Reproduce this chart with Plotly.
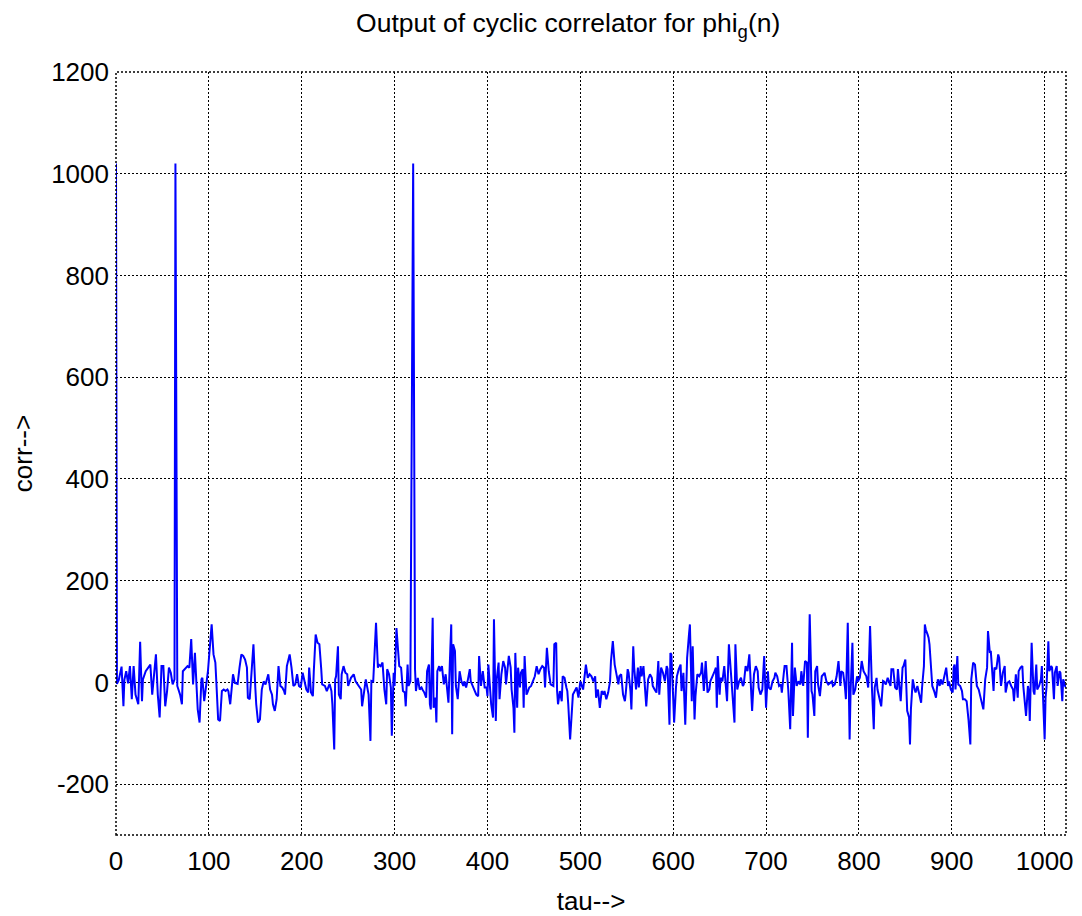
import plotly.graph_objects as go

# Lag values (tau) and correlator output (corr)
tau = [
    0, 1, 3, 6, 8, 9, 11, 13, 15, 17,
    19, 21, 24, 26, 28, 29, 32, 35, 37, 39,
    41, 43, 45, 47, 49, 51, 53, 55, 57, 59,
    61, 63, 64, 66, 69, 71, 72, 75, 77, 79,
    81, 83, 85, 87, 88, 90, 92, 93, 95, 99,
    100, 103, 105, 107, 108, 110, 112, 114, 116, 118,
    120, 121, 123, 125, 126, 128, 131, 133, 135, 137,
    139, 141, 142, 144, 146, 148, 150, 151, 153, 155,
    157, 159, 161, 164, 166, 168, 169, 171, 173, 175,
    177, 179, 181, 182, 184, 186, 187, 189, 191, 193,
    195, 197, 199, 201, 203, 205, 207, 208, 210, 212,
    213, 215, 217, 219, 221, 222, 225, 227, 230, 232,
    233, 235, 236, 237, 239, 240, 242, 243, 245, 247,
    249, 250, 253, 256, 258, 261, 264, 265, 268, 269,
    272, 274, 275, 277, 280, 282, 283, 285, 287, 289,
    291, 292, 294, 296, 297, 299, 300, 302, 305, 307,
    309, 311, 312, 314, 315, 317, 320, 322, 323, 325,
    327, 329, 330, 332, 334, 335, 337, 338, 339, 341,
    342, 344, 345, 346, 348, 349, 351, 353, 355, 357,
    358, 360, 361, 362, 363, 365, 366, 368, 370, 372,
    374, 375, 377, 379, 381, 382, 384, 386, 388, 390,
    391, 393, 395, 397, 399, 400, 401, 403, 404, 406,
    407, 409, 410, 412, 413, 415, 417, 419, 420, 423,
    425, 426, 428, 429, 430, 432, 433, 435, 436, 438,
    439, 440, 442, 443, 445, 447, 449, 451, 453, 455,
    457, 459, 461, 462, 464, 466, 468, 471, 472, 474,
    475, 476, 478, 480, 481, 483, 485, 486, 487, 489,
    490, 492, 494, 496, 498, 500, 503, 504, 506, 508,
    510, 512, 514, 516, 517, 519, 521, 523, 525, 526,
    528, 530, 532, 533, 535, 537, 539, 541, 542, 544,
    546, 548, 549, 551, 552, 554, 555, 557, 558, 560,
    562, 563, 565, 566, 568, 570, 571, 573, 575, 577,
    578, 580, 582, 584, 585, 587, 589, 591, 593, 594,
    596, 597, 598, 600, 601, 603, 604, 606, 608, 609,
    611, 613, 615, 617, 618, 620, 621, 623, 624, 626,
    628, 630, 631, 633, 635, 637, 639, 640, 642, 644,
    646, 647, 648, 650, 651, 653, 655, 657, 658, 660,
    662, 664, 666, 667, 669, 671, 673, 675, 676, 678,
    680, 682, 684, 685, 687, 689, 691, 692, 694, 696,
    698, 699, 700, 702, 703, 705, 707, 709, 710, 712,
    714, 716, 717, 719, 720, 722, 724, 726, 728, 729,
    731, 733, 735, 737, 738, 740, 742, 744, 745, 746,
    747, 749, 750, 752, 753, 755, 756, 758, 760, 762,
    763, 765, 767, 771, 772, 774, 776, 778, 780, 781,
    783, 785, 786, 788, 789, 790, 791, 793, 794, 796,
    798, 799, 801, 803, 805, 807, 808, 810, 812, 814,
    816, 817, 819, 820, 822, 824, 826, 827, 829, 831,
    834, 835, 837, 839, 841, 842, 844, 845, 847, 848,
    850, 851, 852, 854, 855, 856, 858, 860, 861, 863,
    865, 867, 868, 870, 871, 872, 874, 875, 876, 878,
    879, 881, 883, 885, 887, 888, 890, 892, 894, 896,
    897, 899, 901, 902, 903, 904, 906, 907, 909, 911,
    912, 914, 916, 918, 920, 921, 923, 925, 927, 929,
    931, 933, 934, 936, 938, 939, 941, 942, 943, 945,
    946, 948, 950, 951, 953, 955, 957, 958, 960, 962,
    964, 966, 967, 969, 971, 972, 974, 976, 977, 979,
    980, 982, 983, 984, 986, 988, 989, 991, 992, 994,
    996, 997, 998, 1000, 1001, 1002, 1004, 1005, 1007, 1008,
    1010, 1011, 1013, 1014, 1016, 1017, 1019, 1020, 1022, 1023,
]

corr = [
    1020, -3, 5, 31, -47, 5, 22, -2, 32, -33,
    32, -24, -43, 80, -37, 6, 22, 29, 35, -24,
    25, 55, -24, -69, 32, 32, -47, -17, 29, 19,
    -4, 6, 1020, -7, -24, -43, 22, 29, 32, 29,
    85, -4, 58, -17, -53, -79, 6, 9, -37, 22,
    42, 114, 55, 39, 3, -73, -76, -17, -14, -17,
    -14, -17, -43, -4, 16, -1, -3, 29, 55, 52,
    45, 29, -30, -33, 32, 75, -10, -43, -79, -73,
    -14, 2, -4, 16, -14, -24, -43, -56, -33, 32,
    -7, -10, -17, -24, 32, 52, 55, 29, -7, -4,
    16, -7, -10, 19, 2, -14, -20, 29, -20, -27,
    22, 94, 78, 75, 26, -4, -7, -17, -3, -17,
    -43, -132, 6, 12, 71, -24, -33, 16, 32, 19,
    16, -7, 9, 16, 2, -7, -14, -47, -10, 6,
    -24, -115, 3, 2, 117, 29, 35, 32, 39, -14,
    -43, 26, 16, -10, -105, 19, -7, 107, 32, 29,
    -17, -20, -47, 35, -7, 2, 1020, 26, -17, 9,
    -14, -10, -14, -20, -30, 22, 35, -43, -53, 127,
    -50, -30, -79, 22, 32, 22, 32, -4, 16, -17,
    -40, 65, 114, -102, 75, 62, -7, -33, 22, 2,
    -7, 2, -10, 6, 26, 2, -7, -14, -24, -27,
    52, -7, 22, -10, -10, -27, 35, -17, -43, -69,
    124, -76, 6, 39, -33, 16, 42, 29, -4, 52,
    29, -14, -50, -99, 58, -50, 29, -10, 19, 26,
    -50, 52, -24, -20, -10, -7, 2, 12, 32, 16,
    26, 32, 29, -10, 68, 22, -4, -7, 75, 78,
    -17, -43, -17, -37, 12, 9, -10, -17, -43, -112,
    -83, -24, -17, -10, -30, 2, -14, 6, 35, 9,
    16, 12, 2, 12, -30, -14, -50, -17, -24, -17,
    -33, -20, 2, 42, 81, 35, 16, -4, 12, 16,
    -24, -37, -20, 26, 19, -17, -53, 71, 29, -14,
    29, -10, 32, 12, 32, -17, -47, 6, 16, 9,
    -7, -14, -20, 42, -24, 29, 19, 2, 32, 26,
    -83, 58, 55, -30, -79, -10, 12, 26, 35, -17,
    19, -83, 48, 94, 114, -37, 71, -73, -27, 16,
    12, 19, 39, -17, 42, -20, -14, 2, 9, 19,
    29, -50, 52, -24, 9, 2, 32, -30, -37, 75,
    22, -10, -79, 75, -14, 2, 9, -7, -4, 32,
    22, 55, -24, -56, 16, 32, 22, -10, -24, -14,
    52, -30, -50, 22, -10, -14, 2, 9, 19, 12,
    -7, -4, -20, 16, 32, 32, -17, -92, 78, -66,
    29, -7, 2, -4, 22, -7, 42, 39, -109, 35,
    134, -17, -24, -66, 22, 32, -4, -27, 12, 16,
    19, 2, -4, 2, -7, -4, 12, 42, -7, 22,
    19, -10, -33, 117, 12, -112, -20, 78, -24, -14,
    12, 2, 9, 42, 22, 16, 12, -10, 111, -10,
    -92, -10, 9, -14, -33, -47, 3, 2, -4, 9,
    -7, 26, 26, -10, -14, 26, -17, -37, 29, 32,
    45, -10, -56, -69, -122, -53, 6, -14, -20, -7,
    -27, -40, -10, 32, 114, 104, 94, 88, 75, 19,
    -7, -17, -30, 6, -7, 6, -4, 12, 29, -7,
    2, -14, -20, 29, 35, -14, 52, -4, -7, -17,
    -33, -33, -37, -73, -122, 6, 39, 35, -7, -14,
    -30, -43, -53, 6, 29, 101, 58, 62, 32, -17,
    29, 26, 55, 48, -7, 19, 32, -20, -1, 2,
    -7, -14, -37, 16, -30, 22, 29, 32, -7, -43,
    -66, -7, -17, -76, 78, -17, -24, 35, -14, -7,
    6, 32, -17, -112, -30, -10, 81, 22, 32, 29,
    -33, 19, 32, -7, 22, 19, -37, 6, -7, -10,
]

x_ticks = [0, 100, 200, 300, 400, 500, 600, 700, 800, 900, 1000]
y_ticks = [-200, 0, 200, 400, 600, 800, 1000, 1200]
y_ticktext = ["-200", "0", "200", "400", "600", "800", "1000", "1200"]

FONT = "Liberation Sans, Arial, Helvetica, sans-serif"
FS = 26

fig = go.Figure(
    go.Scatter(
        x=tau,
        y=corr,
        mode="lines",
        line=dict(color="#0000ff", width=2),
        showlegend=False,
    )
)

axis_common = dict(
    showgrid=True,
    gridcolor="black",
    griddash="2px,2px",
    gridwidth=1,
    zeroline=False,
    showline=False,
    ticks="",
    automargin=False,
    tickfont=dict(family=FONT, size=FS, color="black"),
)

# The page places the figure 8 px from the top-left corner of the window,
# so the figure is sized to fit the remaining 1074x908 area.
W, H = 1074, 908

fig.update_layout(
    width=W,
    height=H,
    margin=dict(l=108, r=16, t=64, b=81),
    paper_bgcolor="white",
    plot_bgcolor="white",
    font=dict(family=FONT, color="black"),
    title=dict(
        text="Output of cyclic correlator for phi<sub>g</sub>(n)",
        font=dict(family=FONT, size=26.5, color="black"),
        x=0.476,
        xref="paper",
        xanchor="center",
        y=1 - 15 / H,
        yref="container",
        yanchor="middle",
        automargin=False,
    ),
    xaxis=dict(
        range=[0, 1023],
        tickvals=x_ticks,
        ticktext=[str(v) for v in x_ticks],
        ticklabelstandoff=8,
        title=dict(text="tau-->", font=dict(family=FONT, size=FS, color="black"), standoff=16),
        **axis_common,
    ),
    yaxis=dict(
        range=[-300, 1200],
        tickvals=y_ticks,
        ticktext=y_ticktext,
        ticklabelstandoff=6,
        title=dict(text="corr-->", font=dict(family=FONT, size=FS, color="black"), standoff=16),
        **axis_common,
    ),
    shapes=[
        dict(
            type="rect",
            xref="paper",
            yref="paper",
            x0=0,
            y0=0,
            x1=1,
            y1=1,
            line=dict(color="black", width=1.5, dash="2px,2px"),
            fillcolor="rgba(0,0,0,0)",
            layer="above",
        )
    ],
)

fig.write_html("out.html")
